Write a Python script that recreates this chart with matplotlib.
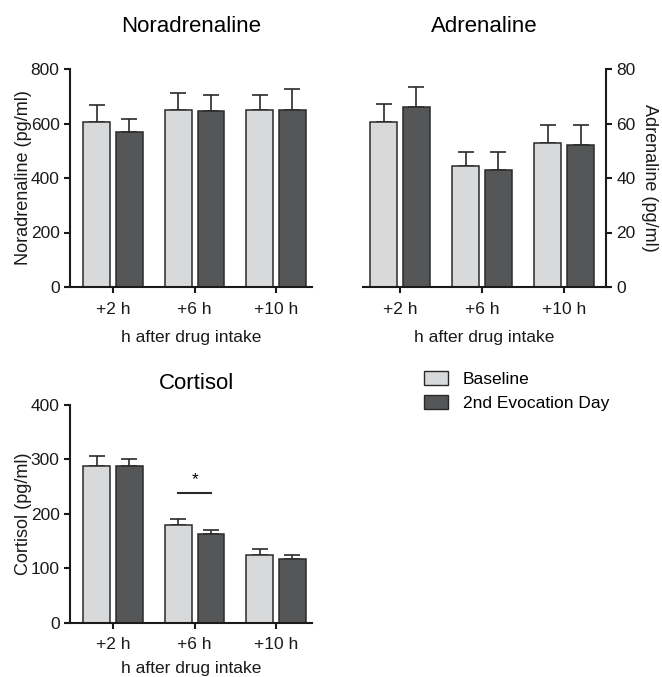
import matplotlib
matplotlib.use("Agg")
import matplotlib.pyplot as plt
import numpy as np
from matplotlib.patches import Patch

plt.rcParams['font.family'] = ['Liberation Sans', 'DejaVu Sans']

categories = ["+2 h", "+6 h", "+10 h"]
series_names = ["Baseline", "2nd Evocation Day"]

nor_base = [607, 650, 650]
nor_base_err = [60, 62, 56]
nor_evo = [568, 646, 650]
nor_evo_err = [49, 60, 77]

adr_base = [60.7, 44.5, 52.7]
adr_base_err = [6.6, 5.2, 6.7]
adr_evo = [66.1, 42.9, 52.2]
adr_evo_err = [7.3, 6.8, 7.2]

cor_base = [287.5, 180, 124]
cor_base_err = [18.5, 11, 11]
cor_evo = [287.5, 163, 116]
cor_evo_err = [13.5, 8, 9]

sig_level = 238
sig_label = "*"

C_LIGHT = "#d8d9db"
C_DARK = "#545658"
EDGE = "#2a2a2a"
W = 0.33
OFF = 0.2

fig = plt.figure(figsize=(6.62, 6.77), dpi=100)

def px_axes(l, r, t, b):
    return fig.add_axes([l/662, 1-b/677, (r-l)/662, (b-t)/677])

def draw(ax, base, berr, evo, eerr, ymax, step, ylabel, right=False, xlabelpad=10):
    x = np.arange(len(categories))
    for xs, vals, errs, col in [(x-OFF, base, berr, C_LIGHT), (x+OFF, evo, eerr, C_DARK)]:
        ax.errorbar(xs, vals, yerr=[np.zeros(len(vals)), errs], fmt='none',
                    ecolor=EDGE, elinewidth=1.2, capsize=5.5, capthick=1.2, zorder=1)
        ax.bar(xs, vals, width=W, color=col, edgecolor=EDGE, linewidth=1.1, zorder=2)
    ax.set_ylim(0, ymax)
    ax.set_yticks(np.arange(0, ymax+1, step))
    ax.set_xticks(x)
    ax.set_xticklabels(categories)
    for s in ['top', 'right', 'left', 'bottom']:
        ax.spines[s].set_visible(False)
    ax.spines['bottom'].set_visible(True)
    side = 'right' if right else 'left'
    ax.spines[side].set_visible(True)
    for s in ['bottom', side]:
        ax.spines[s].set_linewidth(1.5)
        ax.spines[s].set_color('#1a1a1a')
    if right:
        ax.yaxis.tick_right()
        ax.yaxis.set_label_position('right')
    ax.tick_params(axis='both', direction='out', length=4.5, width=1.5,
                   labelsize=12.5, colors='#1a1a1a', pad=3)
    ax.tick_params(axis='x', pad=6)
    ax.set_xlabel("h after drug intake", fontsize=12.5, labelpad=xlabelpad, color='#1a1a1a')
    ax.set_ylabel(ylabel, fontsize=13, color='#1a1a1a', labelpad=4 if right else -1,
                  rotation=270 if right else 90, va='bottom')

ax1 = px_axes(70, 312, 69, 287)
ax1.set_xlim(-0.53, 2.44)
draw(ax1, nor_base, nor_base_err, nor_evo, nor_evo_err, 800, 200, "Noradrenaline (pg/ml)")
fig.text(191/662, 1-27/677, "Noradrenaline", fontsize=16, ha='center', va='center')

ax2 = px_axes(363, 606, 69, 287)
ax2.set_xlim(-0.45, 2.51)
draw(ax2, adr_base, adr_base_err, adr_evo, adr_evo_err, 80, 20, "Adrenaline (pg/ml)", right=True)
fig.text(484/662, 1-27/677, "Adrenaline", fontsize=16, ha='center', va='center')

ax3 = px_axes(70, 312, 404.7, 622.7)
ax3.set_xlim(-0.53, 2.44)
draw(ax3, cor_base, cor_base_err, cor_evo, cor_evo_err, 400, 100, "Cortisol (pg/ml)", xlabelpad=6.5)
fig.text(197/662, 1-383/677, "Cortisol", fontsize=16, ha='center', va='center')

ax3.plot([1-OFF, 1+OFF], [sig_level, sig_level], color=EDGE, lw=1.5, zorder=3)
ax3.text(1, sig_level + 24, sig_label, ha='center', va='center', fontsize=12.5)

handles = [Patch(facecolor=C_LIGHT, edgecolor=EDGE, linewidth=1.0),
           Patch(facecolor=C_DARK, edgecolor=EDGE, linewidth=1.0)]
fig.legend(handles, series_names, loc='upper left', bbox_to_anchor=(424/662, 1-371/677),
           frameon=False, fontsize=12.5, handlelength=1.4, handleheight=0.85,
           handletextpad=0.85, labelspacing=0.45, borderaxespad=0, borderpad=0)

fig.savefig("out.png", dpi=100)
